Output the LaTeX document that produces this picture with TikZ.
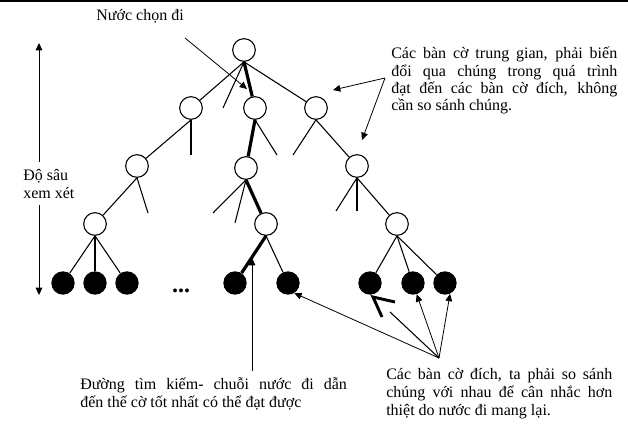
\documentclass[tikz,border=0pt]{standalone}
\usepackage{fontspec}
\setmainfont{Liberation Serif}
\usetikzlibrary{arrows.meta}

\begin{document}
\begin{tikzpicture}[x=0.75pt, y=-0.75pt,
    midboard/.style={circle, draw, line width=0.8pt, minimum size=17pt, inner sep=0pt},
    goalboard/.style={circle, fill=black, minimum size=17.5pt, inner sep=0pt},
    branch/.style={line width=0.8pt},
    bestline/.style={line width=2.4pt},
    ptr/.style={-{Triangle[length=5.5pt,width=5pt]}, line width=0.6pt},
    txt/.style={font=\fontsize{12}{13}\selectfont, inner sep=0pt},
    note/.style={txt, anchor=north west, text width=169.5pt, align=justify,
      execute at begin node={\hyphenpenalty=10000\exhyphenpenalty=10000}}]
    \useasboundingbox (0,0) rectangle (628,438);
    \draw[line width=1.5pt] (0,1) -- (628,1);
    % boards of the tree
    \node[midboard] (R) at (244,50) {};
    \node[midboard] (A1) at (191,108) {};
    \node[midboard] (B1) at (255,108) {};
    \node[midboard] (C1) at (316,108) {};
    \node[midboard] (A2) at (137,166) {};
    \node[midboard] (B2) at (246,168) {};
    \node[midboard] (C2) at (357,166) {};
    \node[midboard] (A3) at (95,224) {};
    \node[midboard] (B3) at (266,224) {};
    \node[midboard] (C3) at (397,224) {};
    \node[goalboard] (G1) at (63,283) {};
    \node[goalboard] (G2) at (95,283) {};
    \node[goalboard] (G3) at (127,283) {};
    \node[goalboard] (G4) at (235,283) {};
    \node[goalboard] (G5) at (288,283) {};
    \node[goalboard] (G6) at (370,283) {};
    \node[goalboard] (G7) at (413,283) {};
    \node[goalboard] (G8) at (445,283) {};
    \node[font=\fontsize{18}{18}\selectfont\bfseries] (dots) at (181,291) {...};
    % free ends of the cut branches
    \coordinate (Rs) at (223,108);
    \coordinate (A1s) at (191,155);
    \coordinate (B1s) at (277,155);
    \coordinate (C1s) at (293,155);
    \coordinate (A2s) at (148,213);
    \coordinate (B2s) at (213,213);
    \coordinate (B2t) at (235,223);
    \coordinate (C2s) at (336,211);
    \coordinate (C2t) at (357,211);
    % branches
    \draw[branch] (R.south) -- (A1);
    \draw[branch] (R.south) -- (Rs);
    \draw[branch] (R.south) -- (C1);
    \draw[branch] (A1.south) -- (A2);
    \draw[branch] (A1.south) -- (A1s);
    \draw[branch] (B1.south) -- (B1s);
    \draw[branch] (C1.south) -- (C1s);
    \draw[branch] (C1.south) -- (C2);
    \draw[branch] (A2.south) -- (A3);
    \draw[branch] (A2.south) -- (A2s);
    \draw[branch] (B2.south) -- (B2s);
    \draw[branch] (B2.south) -- (B2t);
    \draw[branch] (C2.south) -- (C2s);
    \draw[branch] (C2.south) -- (C2t);
    \draw[branch] (C2.south) -- (C3);
    \draw[branch] (A3.south) -- (G1);
    \draw[branch] (A3.south) -- (G2);
    \draw[branch] (A3.south) -- (G3);
    \draw[branch] (B3.south) -- (G5);
    \draw[branch] (C3.south) -- (G6);
    \draw[branch] (C3.south) -- (G7);
    \draw[branch] (C3.south) -- (G8);
    % the best line
    \draw[bestline] (R.south) -- (B1);
    \draw[bestline] (B1.south) -- (B2);
    \draw[bestline] (B2.south) -- (B3);
    \draw[bestline] (B3.south) -- (G4);
    % chosen move
    \node[txt, anchor=base east] (chosen) at (184,21) {Nước chọn đi};
    \coordinate (chosenA) at (185,38);
    \coordinate (chosenB) at (247,89);
    \draw[ptr] (chosenA) -- (chosenB);
    % intermediate boards
    \node[note] (midnote) at (391,47) {Các bàn cờ trung gian, phải biến\linebreak đổi qua chúng trong quá trình\linebreak đạt đến các bàn cờ đích, không\linebreak cần so sánh chúng.};
    \coordinate (mid) at (385,78);
    \coordinate (midA) at (333,90);
    \coordinate (midB) at (362,140);
    \draw[ptr] (mid) -- (midA);
    \draw[ptr] (mid) -- (midB);
    % depth
    \node[txt, anchor=north west, align=left, inner ysep=5pt, font=\fontsize{12}{13.5}\selectfont] (depth) at (23,162) {Độ sâu\\xem xét};
    \coordinate (deptop) at (39,43);
    \coordinate (depbot) at (39,295);
    \draw[ptr] (deptop |- depth.north) -- (deptop);
    \draw[ptr] (depbot |- depth.south) -- (depbot);
    % search path
    \node[note, inner ysep=5pt, text width=200pt, font=\fontsize{12}{13.5}\selectfont] (route) at (80,371) {Đường tìm kiếm- chuỗi nước đi dẫn\linebreak đến thế cờ tốt nhất có thể đạt được};
    \coordinate (routetip) at (252,258);
    \draw[ptr] (routetip |- route.north) -- (routetip);
    % goal boards
    \node[note, font=\fontsize{12}{13.5}\selectfont] (goalnote) at (386,368) {Các bàn cờ đích, ta phải so sánh\linebreak chúng với nhau để cân nhắc hơn\linebreak thiệt do nước đi mang lại.};
    \coordinate (hub) at (439,358);
    \coordinate (fgap) at (390,312);
    \coordinate (fv1) at (395,302);
    \coordinate (ftip) at (373,297);
    \coordinate (fv2) at (382,317);
    \draw[ptr] (hub) -- (G5.-58);
    \draw[branch] (hub) -- (fgap);
    \draw[line width=2.2pt] (fv1) -- (ftip) -- (fv2);
    \draw[ptr] (hub) -- (G7.-72);
    \draw[ptr] (hub) -- (G8.-65);
\end{tikzpicture}
\end{document}
